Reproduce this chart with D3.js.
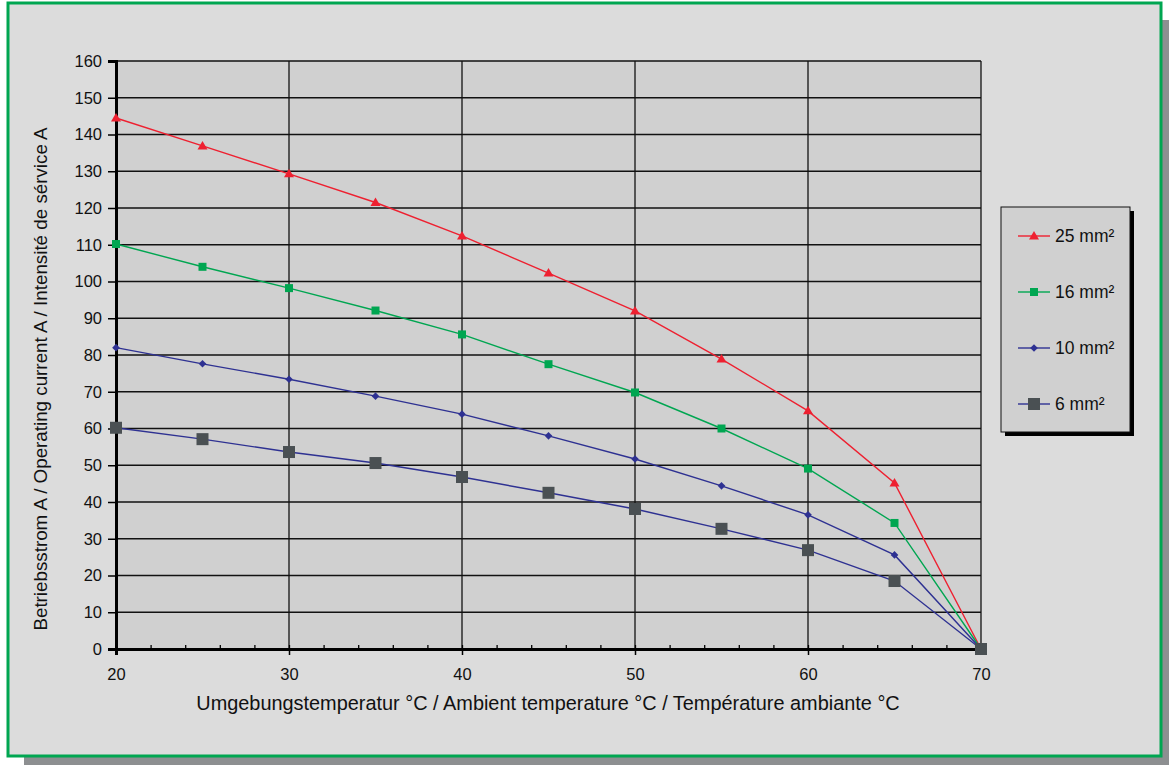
<!DOCTYPE html>
<html>
<head>
<meta charset="utf-8">
<script src="https://cdn.jsdelivr.net/npm/d3@7"></script>
<style>
body{margin:0;padding:0;background:#ffffff;}
svg{display:block;font-family:"Liberation Sans",Arial,Helvetica,sans-serif;}
</style>
</head>
<body>
<svg id="chart" width="1169" height="765"></svg>
<script>
const temperatures = [20, 25, 30, 35, 40, 45, 50, 55, 60, 65, 70];
const series25 = [144.5, 136.9, 129.3, 121.5, 112.4, 102.3, 92, 78.9, 64.8, 45.2, 0];
const series16 = [110.2, 104, 98.2, 92.1, 85.6, 77.5, 69.8, 60, 49.1, 34.3, 0];
const series10 = [82, 77.6, 73.4, 68.8, 63.9, 58, 51.7, 44.4, 36.5, 25.6, 0];
const series6  = [60.2, 57.1, 53.6, 50.6, 46.8, 42.5, 38.1, 32.7, 26.9, 18.5, 0];
const seriesNames = ["25 mm²", "16 mm²", "10 mm²", "6 mm²"];
const xTicks = [20, 30, 40, 50, 60, 70];
const xMinorTicks = d3.range(20, 70.01, 2);
const yTicks = d3.range(0, 161, 10);
const xTitle = "Umgebungstemperatur °C / Ambient temperature °C / Température ambiante °C";
const yTitle = "Betriebsstrom A / Operating current A / Intensité de sérvice A";

const svg = d3.select("#chart");

// outer frame
svg.append("rect").attr("x", 24).attr("y", 20).attr("width", 1145).attr("height", 745).attr("fill", "#8d8f91");
svg.append("rect").attr("x", 8).attr("y", 3).attr("width", 1153).attr("height", 753)
  .attr("fill", "#dcdcdc").attr("stroke", "#00a651").attr("stroke-width", 3);

const x = d3.scaleLinear().domain([20, 70]).range([116, 981]);
const y = d3.scaleLinear().domain([0, 160]).range([649, 61]);

// plot area
svg.append("rect").attr("x", x(20)).attr("y", y(160)).attr("width", x(70) - x(20)).attr("height", y(0) - y(160))
  .attr("fill", "#d0d0d0");

// grid
const g = svg.append("g");
g.selectAll("line.h").data(yTicks.filter(d => d > 0)).enter().append("line")
  .attr("x1", x(20)).attr("x2", x(70)).attr("y1", d => y(d)).attr("y2", d => y(d))
  .attr("stroke", "#111").attr("stroke-width", 1.5);
g.selectAll("line.v").data(xTicks.filter(d => d > 20)).enter().append("line")
  .attr("x1", d => x(d)).attr("x2", d => x(d)).attr("y1", y(0)).attr("y2", y(160))
  .attr("stroke", "#111").attr("stroke-width", 1.3);

// axes
const yAxis = d3.axisLeft(y).tickValues(yTicks).tickSize(8).tickPadding(6);
const yg = svg.append("g").attr("transform", `translate(${x(20)},0)`).call(yAxis);
yg.select(".domain").attr("stroke", "#000").attr("stroke-width", 3);
yg.selectAll(".tick line").attr("stroke", "#000").attr("stroke-width", 1.5);
yg.selectAll("text").attr("font-size", 16.5).attr("fill", "#111");

const xAxisMinor = d3.axisBottom(x).tickValues(xMinorTicks).tickSize(-4).tickFormat("");
const xgm = svg.append("g").attr("transform", `translate(0,${y(0)})`).call(xAxisMinor);
xgm.select(".domain").remove();
xgm.selectAll(".tick line").attr("stroke", "#000").attr("stroke-width", 1.3);

const xAxis = d3.axisBottom(x).tickValues(xTicks).tickSize(6).tickPadding(13);
const xg = svg.append("g").attr("transform", `translate(0,${y(0)})`).call(xAxis);
xg.select(".domain").attr("stroke", "#000").attr("stroke-width", 3);
xg.selectAll(".tick line").attr("stroke", "#000").attr("stroke-width", 1.5);
xg.selectAll("text").attr("font-size", 16.5).attr("fill", "#111");

// titles
svg.append("text").attr("x", 548).attr("y", 710).attr("text-anchor", "middle")
  .attr("font-size", 19.9).attr("fill", "#111").text(xTitle);
svg.append("text").attr("transform", `translate(47,${(y(0) + y(160)) / 2 + 24}) rotate(-90)`)
  .attr("text-anchor", "middle").attr("font-size", 18.8).attr("fill", "#111").text(yTitle);

// series
const seriesDefs = [
  {name: seriesNames[0], values: series25, line: "#ee2030", fill: "#ee2030", shape: "tri", size: 5},
  {name: seriesNames[1], values: series16, line: "#00a651", fill: "#00a651", shape: "sq", size: 8},
  {name: seriesNames[2], values: series10, line: "#2e3192", fill: "#2e3192", shape: "dia", size: 3.8},
  {name: seriesNames[3], values: series6,  line: "#2e3192", fill: "#4a5053", shape: "sq", size: 12}
];

function marker(sel, s, cx, cy) {
  if (s.shape === "tri") {
    const r = s.size;
    sel.append("path").attr("d", `M${cx},${cy - r} L${cx + r},${cy + r * 0.7} L${cx - r},${cy + r * 0.7} Z`).attr("fill", s.fill);
  } else if (s.shape === "sq") {
    const h = s.size / 2;
    sel.append("rect").attr("x", cx - h).attr("y", cy - h).attr("width", s.size).attr("height", s.size).attr("fill", s.fill);
  } else {
    const r = s.size;
    sel.append("path").attr("d", `M${cx},${cy - r} L${cx + r},${cy} L${cx},${cy + r} L${cx - r},${cy} Z`).attr("fill", s.fill);
  }
}

const line = d3.line().x((d, i) => x(temperatures[i])).y(d => y(d));
const sg = svg.append("g");
seriesDefs.forEach(s => {
  sg.append("path").datum(s.values).attr("d", line).attr("fill", "none")
    .attr("stroke", s.line).attr("stroke-width", 1.4);
  const mg = sg.append("g");
  s.values.forEach((v, i) => marker(mg, s, x(temperatures[i]), y(v)));
});

// legend
const lx = 1001, ly = 207, lw = 129, lh = 225;
svg.append("rect").attr("x", lx + 4).attr("y", ly + 4).attr("width", lw).attr("height", lh).attr("fill", "#000");
svg.append("rect").attr("x", lx).attr("y", ly).attr("width", lw).attr("height", lh)
  .attr("fill", "#d0d0d0").attr("stroke", "#111").attr("stroke-width", 1);
const legendYs = [236, 292, 348, 404];
seriesDefs.forEach((s, i) => {
  const yy = legendYs[i];
  const lg = svg.append("g");
  lg.append("line").attr("x1", 1018).attr("x2", 1050).attr("y1", yy).attr("y2", yy)
    .attr("stroke", s.line).attr("stroke-width", 1.4);
  marker(lg, s, 1034, yy);
  lg.append("text").attr("x", 1055).attr("y", yy + 6).attr("font-size", 17.5).attr("fill", "#111").text(s.name);
});
</script>
</body>
</html>
